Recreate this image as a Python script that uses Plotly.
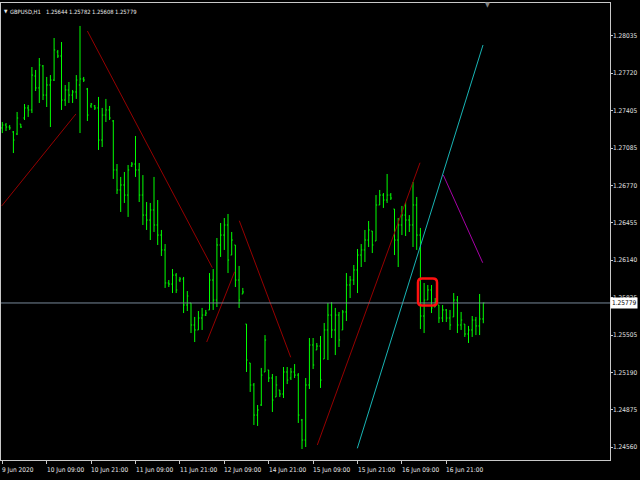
import plotly.graph_objects as go

# ---- data (GBPUSD, H1) ----
bar_index = list(range(131))
open_ = [1.27258,1.27283,1.27266,1.27224,1.27207,1.27291,1.27342,1.27427,1.27410,1.27697,
         1.27596,1.27782,1.27536,1.27621,1.27663,1.27900,1.27866,1.27494,1.27579,1.27536,
         1.27562,1.27621,1.27672,1.27587,1.27444,1.27444,1.27427,1.27156,1.27367,1.27410,
         1.27317,1.26903,1.26734,1.26776,1.26691,1.26937,1.26953,1.26903,1.26691,1.26522,
         1.26480,1.26565,1.26438,1.26353,1.26227,1.25948,1.25939,1.26015,1.25973,1.25982,
         1.25762,1.25779,1.25593,1.25551,1.25652,1.25677,1.25720,1.25973,1.25804,1.26269,
         1.26353,1.26438,1.26184,1.26269,1.25973,1.25855,1.25601,1.25272,1.25086,1.24832,
         1.24917,1.25196,1.25213,1.25145,1.24985,1.25044,1.25010,1.25196,1.25145,1.25196,
         1.25170,1.24790,1.24621,1.25086,1.25424,1.25382,1.25415,1.25306,1.25551,1.25677,
         1.25551,1.25677,1.25551,1.25703,1.25931,1.25973,1.26058,1.26184,1.26227,1.26311,
         1.26387,1.26303,1.26607,1.26691,1.26649,1.26691,1.26573,1.26311,1.26438,1.26522,
         1.26480,1.26438,1.26607,1.26353,1.25669,1.25804,1.25889,1.25745,1.25762,1.25652,
         1.25720,1.25652,1.25661,1.25804,1.25593,1.25601,1.25517,1.25551,1.25635,1.25585,
         1.25644]
high = [1.27308,1.27300,1.27283,1.27232,1.27393,1.27291,1.27460,1.27452,1.27773,1.27748,
        1.27849,1.27790,1.27689,1.27705,1.28018,1.27917,1.27984,1.27621,1.27646,1.27579,
        1.27705,1.28120,1.27689,1.27596,1.27469,1.27452,1.27520,1.27427,1.27503,1.27444,
        1.27325,1.26953,1.26844,1.26886,1.26945,1.26970,1.27190,1.26962,1.26860,1.26632,
        1.26624,1.26844,1.26649,1.26396,1.26277,1.25973,1.26066,1.26032,1.25999,1.25999,
        1.25880,1.25779,1.25661,1.25711,1.25737,1.25720,1.26032,1.26066,1.26328,1.26455,
        1.26497,1.26531,1.26379,1.26269,1.26092,1.25906,1.25601,1.25272,1.25103,1.24917,
        1.25230,1.25508,1.25213,1.25179,1.25162,1.25044,1.25238,1.25238,1.25230,1.25263,
        1.25187,1.24799,1.25145,1.25483,1.25483,1.25441,1.25500,1.25610,1.25779,1.25787,
        1.25737,1.25703,1.25720,1.26032,1.26007,1.26100,1.26235,1.26277,1.26396,1.26472,
        1.26387,1.26691,1.26734,1.26708,1.26869,1.26708,1.26573,1.26497,1.26599,1.26632,
        1.26522,1.26801,1.26675,1.26413,1.25948,1.25931,1.25931,1.25821,1.25762,1.25762,
        1.25728,1.25720,1.25863,1.25838,1.25703,1.25601,1.25585,1.25669,1.25661,1.25855,
        1.25782]
low = [1.27215,1.27232,1.27241,1.27046,1.27198,1.27258,1.27325,1.27351,1.27384,1.27570,
       1.27469,1.27494,1.27435,1.27266,1.27655,1.27849,1.27410,1.27444,1.27469,1.27469,
       1.27503,1.27215,1.27646,1.27317,1.27427,1.27410,1.27072,1.27097,1.27308,1.27325,
       1.26827,1.26700,1.26548,1.26624,1.26506,1.26928,1.26844,1.26632,1.26438,1.26396,
       1.26311,1.26379,1.26269,1.26176,1.25906,1.25914,1.25863,1.25863,1.25956,1.25694,
       1.25711,1.25525,1.25449,1.25551,1.25551,1.25669,1.25720,1.25720,1.25745,1.26168,
       1.26227,1.26032,1.26184,1.25914,1.25737,1.25855,1.25196,1.25027,1.24748,1.24740,
       1.24909,1.25196,1.25111,1.24858,1.24985,1.24985,1.24976,1.25094,1.25128,1.25145,
       1.24765,1.24545,1.24562,1.25052,1.25221,1.25382,1.25061,1.25306,1.25297,1.25483,
       1.25339,1.25407,1.25551,1.25627,1.25821,1.25931,1.25863,1.26083,1.26125,1.26252,
       1.26201,1.26303,1.26607,1.26582,1.26624,1.26649,1.26184,1.26083,1.26353,1.26345,
       1.26379,1.26252,1.26227,1.25559,1.25525,1.25804,1.25694,1.25745,1.25610,1.25618,
       1.25618,1.25551,1.25661,1.25525,1.25551,1.25492,1.25441,1.25492,1.25508,1.25508,
       1.25608]
close = [1.27283,1.27266,1.27258,1.27156,1.27342,1.27266,1.27427,1.27410,1.27705,1.27596,
         1.27790,1.27536,1.27621,1.27663,1.27917,1.27866,1.27494,1.27579,1.27536,1.27562,
         1.27663,1.27672,1.27663,1.27367,1.27460,1.27427,1.27156,1.27367,1.27410,1.27342,
         1.26903,1.26734,1.26776,1.26691,1.26903,1.26953,1.26903,1.26691,1.26522,1.26480,
         1.26565,1.26438,1.26353,1.26227,1.25948,1.25939,1.26015,1.25889,1.25982,1.25762,
         1.25838,1.25593,1.25551,1.25652,1.25677,1.25694,1.25973,1.25804,1.26269,1.26353,
         1.26438,1.26142,1.26311,1.25973,1.25804,1.25872,1.25297,1.25086,1.24832,1.24875,
         1.25170,1.25466,1.25145,1.24959,1.25086,1.25010,1.25196,1.25128,1.25196,1.25170,
         1.24832,1.24621,1.25086,1.25424,1.25255,1.25415,1.25128,1.25551,1.25677,1.25551,
         1.25677,1.25466,1.25703,1.25931,1.25973,1.26058,1.26184,1.26227,1.26311,1.26396,
         1.26269,1.26607,1.26691,1.26649,1.26691,1.26666,1.26311,1.26438,1.26522,1.26480,
         1.26438,1.26607,1.26353,1.25669,1.25804,1.25889,1.25737,1.25787,1.25652,1.25720,
         1.25652,1.25593,1.25804,1.25593,1.25635,1.25517,1.25551,1.25635,1.25585,1.25644,
         1.25779]

tick_bars = [0, 12, 24, 36, 48, 60, 72, 84, 96, 108, 120]
tick_labels = ["9 Jun 2020", "10 Jun 09:00", "10 Jun 21:00", "11 Jun 09:00", "11 Jun 21:00",
               "12 Jun 09:00", "14 Jun 21:00", "15 Jun 09:00", "15 Jun 21:00", "16 Jun 09:00",
               "16 Jun 21:00"]
price_ticks = [1.28035, 1.27720, 1.27405, 1.27085, 1.26770, 1.26455, 1.26140, 1.25825,
               1.25505, 1.25190, 1.24875, 1.24560]
price_labels = ["1.28035", "1.27720", "1.27405", "1.27085", "1.26770", "1.26455", "1.26140",
                "1.25825", "1.25505", "1.25190", "1.24875", "1.24560"]

# trend lines: (x0, y0, x1, y1) in bar index / price
red_lines = [(-0.16, 1.26599, 19.9, 1.27376),
             (23.0, 1.28077, 56.76, 1.26077),
             (55.24, 1.25449, 62.8, 1.26043),
             (64.05, 1.26474, 77.95, 1.25320),
             (85.14, 1.24579, 112.89, 1.26964)]
cyan_line = (95.95, 1.24551, 129.92, 1.27959)
magenta_line = (119.19, 1.26860, 129.84, 1.26119)
mark_box = (112.35, 117.49, 1.25758, 1.25986)   # x0, x1, y_bottom, y_top

last_price = 1.25779
last_price_label = "1.25779"
symbol_label = "GBPUSD,H1"
header_values = ["1.25644", "1.25782", "1.25608", "1.25779"]

FONT = "Liberation Sans Narrow, DejaVu Sans Condensed, Arial Narrow, Liberation Sans, sans-serif"

# plot area in page pixels: x 1..610, y 3..460
def px(x):
    return (x - 1) / 609.0


def py(y):
    return (460 - y) / 457.0


fig = go.Figure()
fig.add_trace(go.Ohlc(
    x=bar_index, open=open_, high=high, low=low, close=close,
    increasing_line_color="#00FF00", decreasing_line_color="#00FF00",
    line_width=1, tickwidth=0.3, hoverinfo="skip", showlegend=False))

for (x0, y0, x1, y1) in red_lines:
    fig.add_trace(go.Scatter(x=[x0, x1], y=[y0, y1], mode="lines",
                             line=dict(color="#960000", width=1), hoverinfo="skip", showlegend=False))
fig.add_trace(go.Scatter(x=[cyan_line[0], cyan_line[2]], y=[cyan_line[1], cyan_line[3]], mode="lines",
                         line=dict(color="#18B4B4", width=1), hoverinfo="skip", showlegend=False))
fig.add_trace(go.Scatter(x=[magenta_line[0], magenta_line[2]], y=[magenta_line[1], magenta_line[3]],
                         mode="lines", line=dict(color="#A800A8", width=1), hoverinfo="skip",
                         showlegend=False))

# current price line
fig.add_hline(y=last_price, line=dict(color="#778899", width=1))

# rounded red marker box
x0, x1, yb, yt = mark_box
rx, ry = 1.1, 0.00034
path = (f"M {x0+rx},{yt} L {x1-rx},{yt} Q {x1},{yt} {x1},{yt-ry} L {x1},{yb+ry} "
        f"Q {x1},{yb} {x1-rx},{yb} L {x0+rx},{yb} Q {x0},{yb} {x0},{yb+ry} "
        f"L {x0},{yt-ry} Q {x0},{yt} {x0+rx},{yt} Z")
fig.add_shape(type="path", path=path, xref="x", yref="y",
              line=dict(color="#FF1010", width=2.5))

annotations = []
for b, t in zip(tick_bars, tick_labels):
    annotations.append(dict(x=b, y=0, xref="x", yref="paper", text=t, showarrow=False,
                            xanchor="left", yanchor="top", yshift=-4, xshift=-2,
                            font=dict(family=FONT, size=6.5, color="#E8E8E8")))
for p, t in zip(price_ticks, price_labels):
    annotations.append(dict(x=px(613), y=p, xref="paper", yref="y", text=t, showarrow=False,
                            xanchor="left", yanchor="middle", xshift=-2,
                            font=dict(family=FONT, size=6.5, color="#E0E0E0")))
annotations.append(dict(x=1, y=last_price, xref="paper", yref="y", text=last_price_label,
                        showarrow=False, xanchor="left", yanchor="middle", xshift=0,
                        bgcolor="#FFFFFF", borderpad=1,
                        font=dict(family=FONT, size=6.5, color="#000000")))
# header line
header_x = [10, 46, 69, 92, 115]
for hx, txt in zip(header_x, [symbol_label] + header_values):
    annotations.append(dict(x=px(hx), y=py(11.5), xref="paper", yref="paper", text=txt,
                            showarrow=False, xanchor="left", yanchor="middle", xshift=-2,
                            font=dict(family=FONT, size=5.8, color="#E8E8E8")))
annotations.append(dict(x=px(5.5), y=py(11), xref="paper", yref="paper", text="▼",
                        showarrow=False, xanchor="center", yanchor="middle",
                        font=dict(family=FONT, size=5, color="#E8E8E8")))
annotations.append(dict(x=px(487), y=py(5), xref="paper", yref="paper", text="▼",
                        showarrow=False, xanchor="center", yanchor="middle",
                        font=dict(family=FONT, size=7, color="#808080")))

fig.update_layout(
    width=640, height=480,
    margin=dict(l=1, r=30, t=3, b=20, autoexpand=False),
    paper_bgcolor="#000000", plot_bgcolor="#000000",
    showlegend=False,
    annotations=annotations,
    xaxis=dict(range=[-0.351, 164.24], showgrid=False, zeroline=False, automargin=False,
               showline=True, linecolor="#C8C8C8", linewidth=1, mirror=True,
               tickvals=tick_bars, showticklabels=False, ticks="outside",
               ticklen=3, tickcolor="#C8C8C8", rangeslider=dict(visible=False),
               fixedrange=True),
    yaxis=dict(range=[1.244522, 1.283138], side="right", showgrid=False, zeroline=False,
               automargin=False,
               showline=True, linecolor="#C8C8C8", linewidth=1, mirror=True,
               tickvals=price_ticks, showticklabels=False,
               ticks="outside", ticklen=2, tickcolor="#C8C8C8", fixedrange=True),
)

fig.write_html("out.html", config={"displayModeBar": False},
               post_script="document.body.style.margin='0';document.body.style.padding='0';"
                           "document.body.style.background='#000';")
